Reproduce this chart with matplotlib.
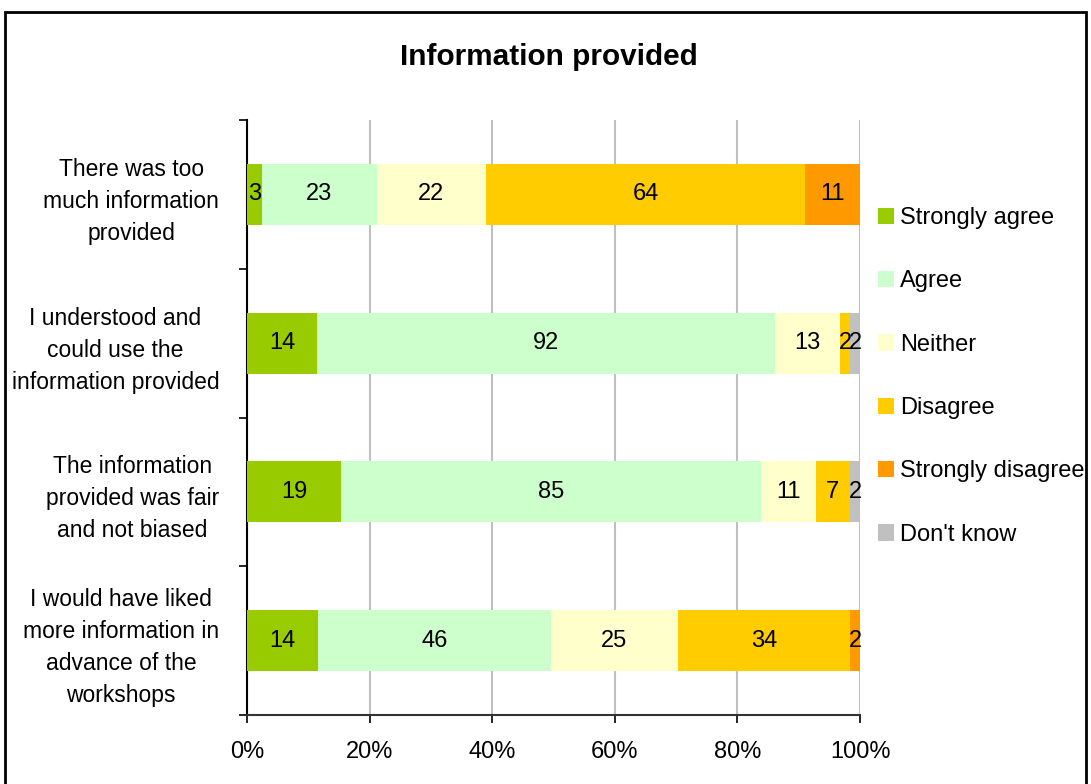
import numpy as np
import matplotlib
matplotlib.use("Agg")
import matplotlib.pyplot as plt
from matplotlib.patches import Rectangle, Patch

plt.rcParams['font.family'] = ['Liberation Sans', 'DejaVu Sans']

questions = ["There was too\nmuch information\nprovided",
             "I understood and\ncould use the\ninformation provided",
             "The information\nprovided was fair\nand not biased",
             "I would have liked\nmore information in\nadvance of the\nworkshops"]
responses = ["Strongly agree", "Agree", "Neither", "Disagree",
             "Strongly disagree", "Don't know"]
colors = ["#99CC00", "#CCFFCC", "#FFFFCC", "#FFCC00", "#FF9900", "#C0C0C0"]

strongly_agree = [3, 14, 19, 14]
agree = [23, 92, 85, 46]
neither = [22, 13, 11, 25]
disagree = [64, 2, 7, 34]
strongly_disagree = [11, 0, 0, 2]
dont_know = [0, 2, 2, 0]

counts = np.array([strongly_agree, agree, neither, disagree,
                   strongly_disagree, dont_know], dtype=float)
pct = counts / counts.sum(axis=0)

fig = plt.figure(figsize=(10.91, 7.84), dpi=100)
ax = fig.add_axes([0.2264, 0.088, 0.5619, 0.7589])

y = np.arange(len(questions))
left = np.zeros(len(questions))
for i in range(len(responses)):
    ax.barh(y, pct[i], left=left, height=0.41, color=colors[i],
            label=responses[i], zorder=3)
    for j in range(len(questions)):
        if counts[i, j] > 0:
            ax.text(left[j] + pct[i, j] / 2, y[j], "%d" % counts[i, j],
                    ha='center', va='center', fontsize=17, zorder=4)
    left = left + pct[i]

ax.set_xlim(0, 1)
ax.set_ylim(3.5, -0.5)
ax.set_xticks([0, 0.2, 0.4, 0.6, 0.8, 1.0])
ax.set_xticklabels(["0%", "20%", "40%", "60%", "80%", "100%"], fontsize=17)
ax.xaxis.grid(True, color="#C0C0C0", lw=1.5, zorder=0)
ax.tick_params(axis='x', direction='out', length=6, width=1.2, pad=13)

ax.set_yticks([-0.5, 0.5, 1.5, 2.5, 3.5])
ax.set_yticklabels([])
ax.tick_params(axis='y', which='major', direction='out', length=6, width=1.2)
ax.set_yticks(y, minor=True)
ax.set_yticklabels(questions, minor=True, fontsize=16.5,
                   multialignment='center', linespacing=1.5)
ax.tick_params(axis='y', which='minor', length=0, pad=20)

ax.spines['top'].set_visible(False)
ax.spines['right'].set_visible(False)
ax.spines['left'].set_linewidth(1.5)
ax.spines['bottom'].set_linewidth(1.5)
ax.spines['bottom'].set_color("#333333")

handles = [Patch(facecolor=c, edgecolor='none') for c in colors]
ax.legend(handles, responses, loc='center left', bbox_to_anchor=(1.029, 0.569),
          frameon=False, fontsize=17, handlelength=0.68, handleheight=0.68,
          handletextpad=0.25, labelspacing=1.75, borderpad=0, borderaxespad=0)

fig.text(0.503, 0.927, "Information provided", ha='center', va='center',
         fontsize=21.4, fontweight='bold')

fig.patches.append(Rectangle((5 / 1091, -0.05), 1081 / 1091, 0.9847 + 0.05,
                             transform=fig.transFigure, fill=False,
                             edgecolor='black', lw=2))

fig.savefig("out.png", dpi=100)
